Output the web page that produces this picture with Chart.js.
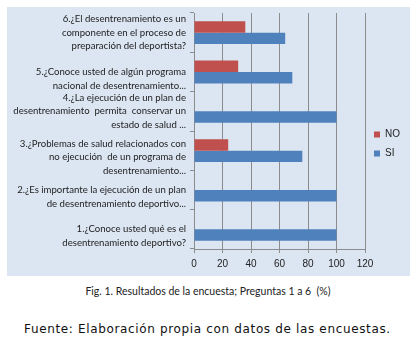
<!DOCTYPE html>
<html>
<head>
<meta charset="utf-8">
<script src="https://cdn.jsdelivr.net/npm/chart.js@4/dist/chart.umd.min.js"></script>
<style>
  body { margin: 0; background: #fff; width: 416px; height: 343px; position: relative; overflow: hidden; }
  #panel { position: absolute; left: 7px; top: 7px; width: 403px; height: 269px; background: #dce6f2; }
  #caption { position: absolute; left: 0; width: 416px; top: 285px; text-align: center; font: 10.5px Lato, sans-serif; color: #222; white-space: pre; }
  #source { position: absolute; left: 24px; top: 322px; font: 12px "DejaVu Sans", sans-serif; letter-spacing: 0.65px; color: #111; white-space: pre; }
</style>
</head>
<body>
<div id="panel"><canvas id="chart" width="403" height="269"></canvas></div>
<div id="caption">Fig. 1. Resultados de la encuesta; Preguntas 1 a 6  (%)</div>
<div id="source">Fuente: Elaboración propia con datos de las encuestas.</div>
<script>
// wrapped question labels; a leading '' line pushes the text a bit below the band centre
const preguntas = [
    ['6.¿El desentrenamiento es un', 'componente en el proceso de', 'preparación del deportista?'],
    ['', '5.¿Conoce usted de algún programa', 'nacional de desentrenamiento...'],
    ['4.¿La ejecución de un plan de', 'desentrenamiento  permita  conservar un', 'estado de salud ...'],
    ['', '3.¿Problemas de salud relacionados con', 'no ejecución  de un programa de', 'desentrenamiento...'],
    ['', '2.¿Es importante la ejecución de un plan', 'de desentrenamiento deportivo...'],
    ['', '1.¿Conoce usted qué es el', 'desentrenamiento deportivo?']
];
const respuestasNo = [36, 31, 0, 24, 0, 0];
const respuestasSi = [64, 69, 100, 76, 100, 100];
const xTicks = [0, 20, 40, 60, 80, 100, 120];

const gridColor = '#8c8c8c';

new Chart(document.getElementById('chart'), {
    type: 'bar',
    data: {
        labels: preguntas,
        datasets: [
            { label: 'NO', data: respuestasNo, backgroundColor: '#c0504d', borderWidth: 0 },
            { label: 'SI', data: respuestasSi, backgroundColor: '#4f81bd', borderWidth: 0 }
        ]
    },
    options: {
        indexAxis: 'y',
        responsive: false,
        animation: false,
        layout: { padding: { top: 6, right: 0, bottom: 1, left: 0 } },
        datasets: { bar: { categoryPercentage: 0.58, barPercentage: 1 } },
        scales: {
            x: {
                min: xTicks[0],
                max: xTicks[xTicks.length - 1],
                afterBuildTicks: scale => { scale.ticks = xTicks.map(v => ({ value: v })); },
                grid: { color: gridColor, tickLength: 4 },
                border: { color: gridColor },
                ticks: { color: '#222', padding: 5, font: { family: 'Liberation Sans', size: 10 } }
            },
            y: {
                afterFit: scale => {
                    scale.width = 187;
                    // tall labels must not shrink the plot vertically
                    scale.paddingTop = 0;
                    scale.paddingBottom = 0;
                },
                grid: { drawOnChartArea: false, color: gridColor, tickLength: 4 },
                border: { color: gridColor },
                ticks: {
                    autoSkip: false,
                    color: '#222',
                    padding: 4,
                    font: { family: 'Lato', size: 9.6, lineHeight: 1.4 }
                }
            }
        },
        plugins: {
            legend: {
                position: 'right',
                labels: {
                    boxWidth: 6,
                    boxHeight: 6,
                    padding: 9,
                    color: '#222',
                    font: { family: 'Liberation Sans', size: 10 }
                }
            },
            tooltip: { enabled: false }
        }
    }
});
</script>
</body>
</html>
